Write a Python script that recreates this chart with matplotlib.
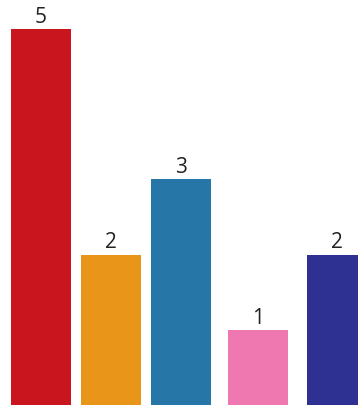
import matplotlib
matplotlib.use("Agg")
import matplotlib.pyplot as plt

categories = ["A", "B", "C", "D", "E"]
values = [5, 2, 3, 1, 2]
colors = ["#c9151e", "#e8951a", "#2677a8", "#f078b0", "#2e3192"]

# layout (pixel-like units)
x_pos = [41, 111, 181, 258, 337]
bar_w = 60

fig = plt.figure(figsize=(3.58, 4.06), dpi=100)
ax = fig.add_axes([0, 0, 1, 1])
ax.bar(x_pos, values, width=bar_w, color=colors)
for x, v in zip(x_pos, values):
    ax.text(x, v + 0.03, str(v), ha="center", va="bottom",
            fontsize=15, color="#222222", family=["Open Sans", "DejaVu Sans"])
ax.set_xlim(0, 358)
ax.set_ylim(0, 406 / 75.2)
ax.axis("off")
fig.savefig("out.png", dpi=100)
